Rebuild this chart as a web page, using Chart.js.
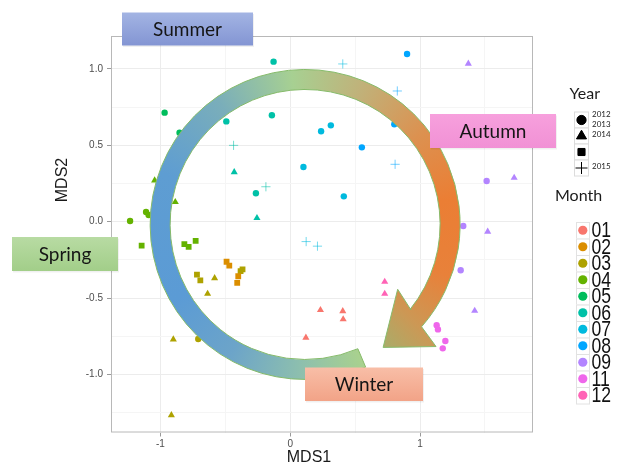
<!DOCTYPE html>
<html>
<head>
<meta charset="utf-8">
<script src="https://cdn.jsdelivr.net/npm/chart.js@4.4.1/dist/chart.umd.min.js"></script>
<style>
html,body{margin:0;padding:0;background:#fff}
#mdsChart{display:block}
</style>
</head>
<body>
<canvas id="mdsChart" width="618" height="466"></canvas>
<script>

// ===============================
// DATA
// ===============================

const monthLabels = ["01","02","03","04","05","06","07","08","09","11","12"]
const yearLabels = ["2012","2013","2014","2015"]
const seasonLabels = ["Summer","Autumn","Winter","Spring"]
const xTickLabels = ["-1","0","1"]
const yTickLabels = ["-1.0","-0.5","0.0","0.5","1.0"]

// one entry per sample
const pointMonth = [
"01","01","01","01",
"02","02","02","02",
"03","03","03","03","03","03","03","03","03",
"04","04","04","04","04","04","04","04","04",
"05","05",
"06","06","06","06","06","06","06","06",
"07","07","07","07","07","07","07",
"08","08","08","08","08",
"09","09","09","09","09","09","09",
"11","11","11","11",
"12","12"
]
const pointYear = [
"2013","2013","2013","2013",
"2014","2014","2014","2014",
"2014","2014","2014","2014","2013","2013","2013","2013","2012",
"2012","2012","2012","2013","2013","2014","2014","2014","2014",
"2012","2012",
"2012","2012","2012","2012","2013","2013","2015","2015",
"2012","2012","2012","2012","2015","2015","2015",
"2012","2012","2012","2015","2015",
"2013","2013","2013","2013","2012","2012","2012",
"2012","2012","2012","2012",
"2013","2013"
]
const mds1 = [
0.233,0.405,0.408,0.121,
-0.49,-0.469,-0.4,-0.408,
-0.382,-0.367,-0.718,-0.692,-0.582,-0.636,-0.9,-0.915,-0.708,
-1.233,-1.11,-1.09,-1.044,-0.885,-1.144,-0.815,-0.782,-0.728,
-0.967,-0.852,
-0.128,-0.492,-0.141,-0.264,-0.431,-0.256,-0.436,-0.187,
0.238,0.313,0.102,0.413,0.405,0.123,0.21,
0.9,0.802,0.552,0.825,0.808,
1.372,1.725,1.521,1.421,1.513,1.333,1.313,
1.128,1.138,1.195,1.175,
0.728,0.728
]
const mds2 = [
-0.578,-0.585,-0.639,-0.759,
-0.262,-0.288,-0.357,-0.401,
-0.323,-0.312,-0.347,-0.384,-0.369,-0.472,-0.77,-1.266,-0.768,
0.005,0.064,0.044,0.271,0.129,-0.157,-0.146,-0.164,-0.126,
0.714,0.583,
1.048,0.657,0.697,0.186,0.325,0.024,0.5,0.229,
0.592,0.631,0.358,0.166,1.033,-0.13,-0.16,
1.098,0.638,0.487,0.856,0.376,
1.035,0.288,-0.065,-0.583,0.267,-0.028,-0.318,
-0.678,-0.705,-0.781,-0.829,
-0.393,-0.472
]

// ===============================
// STYLE
// ===============================

const monthColors = ["#F8766D","#DB8E00","#AEA200","#64B200","#00BD5C","#00C1A7","#00BADE","#00A6FF","#B385FF","#EF67EB","#FF63B6"]
const yearShapes = {"2012":"circle","2013":"triangle","2014":"rect","2015":"cross"}
const yearRadius = {"2012":3.2,"2013":4.1,"2014":4.1,"2015":4.6}

const tickFont = {family:"'Liberation Sans', Arial, sans-serif", size:10}
const boxFont = "19px Lato, 'Open Sans', sans-serif"

function fade(hex, a){
const n = parseInt(hex.slice(1),16)
return "rgba("+(n>>16)+","+((n>>8)&255)+","+(n&255)+","+a+")"
}

// ===============================
// DATASETS
// ===============================

const datasets = monthLabels.map((m,mi)=>{
const pts = []
pointMonth.forEach((pm,i)=>{
if(pm===m) pts.push({x:mds1[i], y:mds2[i], yr:pointYear[i]})
})
return {
label:m,
data:pts,
backgroundColor:monthColors[mi],
borderColor:(c)=>c.raw && c.raw.yr==="2015" ? fade(monthColors[mi],0.55) : monthColors[mi],
pointStyle:(c)=>c.raw ? yearShapes[c.raw.yr] : "circle",
pointRadius:(c)=>c.raw ? yearRadius[c.raw.yr] : 3,
borderWidth:(c)=>c.raw && c.raw.yr==="2015" ? 1 : 0
}
})

// ===============================
// SEASON ARROW + LABELS
// ===============================

const rad = d=>d*Math.PI/180

function polar(cx,cy,r,deg){
return [cx+r*Math.cos(rad(deg)), cy+r*Math.sin(rad(deg))]
}

const seasonArrow = {
id:"seasonArrow",
beforeDatasetsDraw(chart){
const {ctx, chartArea:a} = chart
ctx.save()
ctx.strokeStyle = "#b8b8b8"
ctx.lineWidth = 1
ctx.strokeRect(a.left+0.5, a.top+0.5, a.right-a.left-1, a.bottom-a.top-1)
ctx.restore()
},
afterDatasetsDraw(chart){
const ctx = chart.ctx
const xs = chart.scales.x, ys = chart.scales.y
// ring centre sits at MDS (0.115,-0.018)
const cx = xs.getPixelForValue(0.115)
const cy = ys.getPixelForValue(-0.018)
const rOut = 155, rIn = 135
const tail = 67

ctx.save()
ctx.beginPath()
ctx.arc(cx, cy, rOut, rad(tail), rad(401.3), false)
let p = polar(cx,cy,179,403); ctx.lineTo(p[0],p[1])
p = polar(cx,cy,145.6,417.6); ctx.lineTo(p[0],p[1])
p = polar(cx,cy,113,395); ctx.lineTo(p[0],p[1])
p = polar(cx,cy,rIn+1,398.9); ctx.lineTo(p[0],p[1])
ctx.arc(cx, cy, rIn, rad(398.9), rad(tail), true)
ctx.closePath()

let g
if(ctx.createConicGradient){
g = ctx.createConicGradient(rad(tail), cx, cy)
const stops = [
[67,"#a9d18e"],[92,"#8dbfae"],[120,"#6ca4c9"],[150,"#5b9bd5"],
[200,"#5e9dd2"],[235,"#7aaeba"],[265,"#a7d092"],[292,"#c0b27a"],
[322,"#dc9150"],[350,"#eb7e34"],[380,"#e8813a"],[402,"#cc9855"],[418,"#a8ad6a"]
]
stops.forEach(s=>g.addColorStop(Math.min(1,(s[0]-tail)/360), s[1]))
}else{
g = ctx.createLinearGradient(cx-rOut,0,cx+rOut,0)
g.addColorStop(0,"#5b9bd5"); g.addColorStop(0.5,"#a9d18e"); g.addColorStop(1,"#ed7d31")
}
ctx.fillStyle = g
ctx.fill()
ctx.strokeStyle = "#86bb6a"
ctx.lineWidth = 1
ctx.stroke()
ctx.restore()
},
afterDraw(chart){
const ctx = chart.ctx

// season boxes
const boxes = [
{t:seasonLabels[0], x:122, y:12.5, w:131, h:33, c1:"#a3b4e3", c2:"#8395d3"},
{t:seasonLabels[1], x:430, y:114, w:126, h:34, c1:"#f7a0dd", c2:"#f191d5"},
{t:seasonLabels[2], x:305, y:367.5, w:118, h:33.5, c1:"#f8bea7", c2:"#f2a387"},
{t:seasonLabels[3], x:12, y:237, w:106, h:34, c1:"#b8dba3", c2:"#a2ce89"}
]
ctx.save()
boxes.forEach(b=>{
const g = ctx.createLinearGradient(0,b.y,0,b.y+b.h)
g.addColorStop(0,b.c1); g.addColorStop(1,b.c2)
ctx.fillStyle = "rgba(0,0,0,0.06)"
ctx.fillRect(b.x+1, b.y+1.5, b.w, b.h)
ctx.fillStyle = g
ctx.fillRect(b.x, b.y, b.w, b.h)
ctx.fillStyle = "#151515"
ctx.font = boxFont
ctx.textAlign = "center"
ctx.textBaseline = "middle"
ctx.fillText(b.t, b.x+b.w/2, b.y+b.h/2+1)
})

// axis titles
ctx.fillStyle = "#1a1a1a"
ctx.font = "16px 'Liberation Sans', Arial, sans-serif"
ctx.textAlign = "center"
ctx.textBaseline = "middle"
ctx.fillText("MDS1", 309, 457.5)
ctx.translate(63,180)
ctx.rotate(-Math.PI/2)
ctx.fillText("MDS2", 0, 0)
ctx.setTransform(1,0,0,1,0,0)

// year legend
ctx.textAlign = "left"
ctx.textBaseline = "alphabetic"
ctx.font = "16px Lato, sans-serif"
ctx.fillText("Year", 569.5, 98.5)
const yRows = [120,136,152,168]
yearLabels.forEach((yr,i)=>{
ctx.fillStyle = "#fff"
ctx.fillRect(574.5, yRows[i]-8, 14, 16)
ctx.strokeStyle = "#dcdcdc"
ctx.lineWidth = 1
ctx.strokeRect(574.5, yRows[i]-8, 14, 16)
ctx.fillStyle = "#000"
ctx.strokeStyle = "#000"
const s = yearShapes[yr]
const r = s==="circle" ? 4.6 : s==="triangle" ? 5.8 : s==="rect" ? 5 : 6
Chart.helpers.drawPoint(ctx, {pointStyle:s, radius:r, borderWidth:1}, 581.5, yRows[i])
if(s!=="cross") ctx.fill()
})
ctx.fillStyle = "#222"
ctx.font = "8px Lato, sans-serif"
const yTextPos = [117,127,137,169]
yearLabels.forEach((yr,i)=>ctx.fillText(yr, 592, yTextPos[i]))

// month legend
ctx.font = "16px Lato, sans-serif"
ctx.fillStyle = "#1a1a1a"
ctx.fillText("Month", 555, 200.5)
const rowH = 16.5
monthLabels.forEach((m,i)=>{
const cyR = 222 + rowH*i + rowH/2
ctx.fillStyle = "#fff"
ctx.fillRect(576, 222+rowH*i, 13.5, rowH)
ctx.strokeStyle = "#e2e2e2"
ctx.strokeRect(576.5, 222.5+rowH*i, 13, rowH)
ctx.fillStyle = monthColors[i]
ctx.beginPath()
ctx.arc(582.8, cyR, 4.6, 0, Math.PI*2)
ctx.fill()
})
monthLabels.forEach((m,i)=>{
const cyR = 222 + rowH*i + rowH/2
ctx.save()
ctx.translate(591.5, cyR+1)
ctx.scale(0.8,1)
ctx.fillStyle = "#111"
ctx.font = "22px 'Liberation Sans', Arial, sans-serif"
ctx.textBaseline = "middle"
ctx.fillText(m, 0, 0)
ctx.restore()
})
ctx.restore()
}
}

// ===============================
// CHART
// ===============================

new Chart(document.getElementById("mdsChart"),{
type:"scatter",
data:{datasets:datasets},
options:{
responsive:false,
animation:false,
devicePixelRatio:1,
layout:{padding:{left:0,right:85,top:36,bottom:0}},
plugins:{
legend:{display:false},
tooltip:{enabled:false}
},
scales:{
x:{
type:"linear",
min:-1.38,
max:1.87,
afterFit:(s)=>{s.height = 33.5},
border:{display:false},
grid:{
color:(c)=>Number.isInteger(c.tick.value) ? "#ececec" : "#f5f5f5",
tickColor:(c)=>Number.isInteger(c.tick.value) ? "#9a9a9a" : "rgba(0,0,0,0)",
tickLength:4
},
ticks:{
stepSize:0.5,
includeBounds:false,
maxRotation:0,
autoSkip:false,
padding:2,
color:"#4d4d4d",
font:tickFont,
callback:(v)=>{
const i = xTickLabels.indexOf(String(v))
return i>=0 ? xTickLabels[i] : ""
}
}
},
y:{
type:"linear",
min:-1.38,
max:1.216,
afterFit:(s)=>{s.width = 111},
border:{display:false},
grid:{
color:(c)=>Number.isInteger(c.tick.value*2) ? "#ececec" : "#f5f5f5",
tickColor:(c)=>Number.isInteger(c.tick.value*2) ? "#9a9a9a" : "rgba(0,0,0,0)",
tickLength:4
},
ticks:{
stepSize:0.25,
includeBounds:false,
autoSkip:false,
padding:4,
color:"#4d4d4d",
font:tickFont,
callback:(v)=>{
const i = yTickLabels.indexOf(v.toFixed(1))
return Number.isInteger(v*2) && i>=0 ? yTickLabels[i] : ""
}
}
}
}
},
plugins:[seasonArrow]
})

</script>
</body>
</html>
